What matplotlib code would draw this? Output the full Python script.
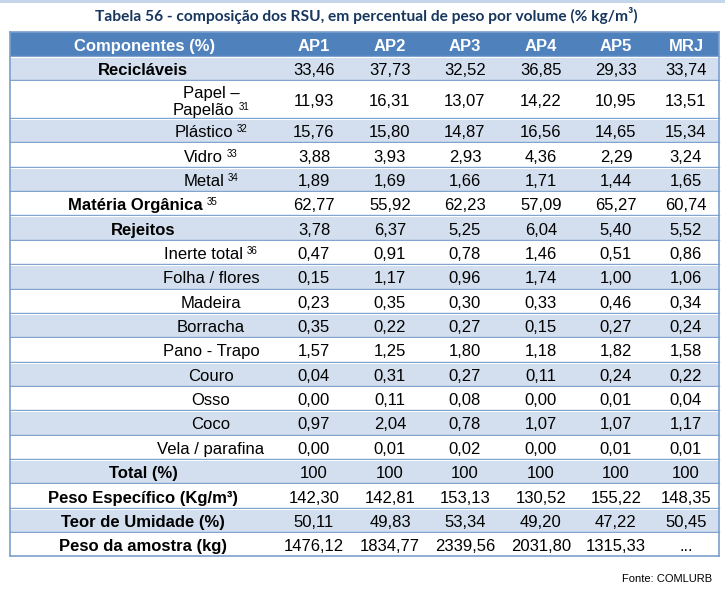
import numpy as np
import matplotlib
matplotlib.use("Agg")
import matplotlib.pyplot as plt
from matplotlib import font_manager

# --- table content -------------------------------------------------------
TITLE = "Tabela 56 - composição dos RSU, em percentual de peso por volume (% kg/m³)"
SOURCE = "Fonte: COMLURB"
HEADER = ["Componentes (%)", "AP1", "AP2", "AP3", "AP4", "AP5", "MRJ"]

LABELS = ["Recicláveis", "Papel –\nPapelão", "Plástico", "Vidro", "Metal",
          "Matéria Orgânica", "Rejeitos", "Inerte total", "Folha / flores",
          "Madeira", "Borracha", "Pano - Trapo", "Couro", "Osso", "Coco",
          "Vela / parafina", "Total (%)", "Peso Específico (Kg/m³)",
          "Teor de Umidade (%)", "Peso da amostra (kg)"]
NOTES = {1: "31", 2: "32", 3: "33", 4: "34", 5: "35", 7: "36"}
BOLD_ROWS = [0, 5, 6, 16, 17, 18, 19]

AP1 = [33.46, 11.93, 15.76, 3.88, 1.89, 62.77, 3.78, 0.47, 0.15, 0.23, 0.35,
       1.57, 0.04, 0.00, 0.97, 0.00, 100, 142.30, 50.11, 1476.12]
AP2 = [37.73, 16.31, 15.80, 3.93, 1.69, 55.92, 6.37, 0.91, 1.17, 0.35, 0.22,
       1.25, 0.31, 0.11, 2.04, 0.01, 100, 142.81, 49.83, 1834.77]
AP3 = [32.52, 13.07, 14.87, 2.93, 1.66, 62.23, 5.25, 0.78, 0.96, 0.30, 0.27,
       1.80, 0.27, 0.08, 0.78, 0.02, 100, 153.13, 53.34, 2339.56]
AP4 = [36.85, 14.22, 16.56, 4.36, 1.71, 57.09, 6.04, 1.46, 1.74, 0.33, 0.15,
       1.18, 0.11, 0.00, 1.07, 0.00, 100, 130.52, 49.20, 2031.80]
AP5 = [29.33, 10.95, 14.65, 2.29, 1.44, 65.27, 5.40, 0.51, 1.00, 0.46, 0.27,
       1.82, 0.24, 0.01, 1.07, 0.01, 100, 155.22, 47.22, 1315.33]
MRJ = [33.74, 13.51, 15.34, 3.24, 1.65, 60.74, 5.52, 0.86, 1.06, 0.34, 0.24,
       1.58, 0.22, 0.04, 1.17, 0.01, 100, 148.35, 50.45, None]
COLUMNS = [AP1, AP2, AP3, AP4, AP5, MRJ]

# --- layout (pixels) -----------------------------------------------------
W, H = 725, 596
LEFT, RIGHT = 10.5, 719.5
HEAD_TOP, HEAD_BOT = 32, 55.5
ROW_UNIT = 24.35
ROW_UNITS = [1, 1.55] + [1] * 18
LABEL_X_BOLD = 143
LABEL_X_SUB = 211
COL_X = [314, 390, 465, 541, 616, 686]

BLUE = "#4F81BD"
BAND = "#D3DFEE"
LINE = "#7BA0CD"
TITLE_COLOR = "#17365D"

names = {f.name for f in font_manager.fontManager.ttflist}
if "Liberation Sans Narrow" in names:
    BODY_FONT = ["Liberation Sans Narrow", "DejaVu Sans"]
    FS = 13
else:
    BODY_FONT = ["Liberation Sans", "DejaVu Sans"]
    FS = 12


def fmt(v):
    if v is None:
        return "..."
    if v == 100:
        return "100"
    return f"{v:.2f}".replace(".", ",")


fig = plt.figure(figsize=(W / 100, H / 100), dpi=100)
ax = fig.add_axes([0, 0, 1, 1])
ax.set_xlim(0, W)
ax.set_ylim(H, 0)
ax.axis("off")
renderer = fig.canvas.get_renderer()

# thin band at the very top of the page
ax.axhspan(0, 2.5, color="#C5D5EA", lw=0)

ax.text(366, 15, TITLE, ha="center", va="center", fontsize=11.2,
        fontweight="bold", family=["Lato", "DejaVu Sans"], color=TITLE_COLOR)

# header
ax.add_patch(plt.Rectangle((LEFT, HEAD_TOP), RIGHT - LEFT, HEAD_BOT - HEAD_TOP,
                           color=BLUE, lw=0))
ax.text(145, HEAD_BOT - 4.8, HEADER[0], ha="center", va="baseline", fontsize=FS,
        fontweight="bold", family=BODY_FONT, color="white")
for x, h in zip(COL_X, HEADER[1:]):
    ax.text(x, HEAD_BOT - 4.8, h, ha="center", va="baseline", fontsize=FS,
            fontweight="bold", family=BODY_FONT, color="white")

edges = HEAD_BOT + 0.5 + np.concatenate([[0], np.cumsum(ROW_UNITS)]) * ROW_UNIT

for i, label in enumerate(LABELS):
    y0, y1 = edges[i], edges[i + 1]
    if i % 2 == 0:
        ax.add_patch(plt.Rectangle((LEFT, y0), RIGHT - LEFT, y1 - y0,
                                   color=BAND, lw=0))
    ax.plot([LEFT, RIGHT], [y0, y0], color=LINE, lw=1)
    ax.plot([LEFT, RIGHT], [y0 + 1, y0 + 1], color="white", lw=0.8)
    base = (y0 + y1) / 2 + 7.0
    bold = i in BOLD_ROWS
    weight = "bold" if bold else "normal"
    cx = LABEL_X_BOLD if bold else LABEL_X_SUB

    lines = label.split("\n")
    for k, line in enumerate(lines):
        lb = base + (k - (len(lines) - 1) / 2) * 17
        note = NOTES.get(i) if k == len(lines) - 1 else None
        t = ax.text(cx, lb, line, ha="center", va="baseline", fontsize=FS,
                    fontweight=weight, family=BODY_FONT, color="black")
        if note:
            n = ax.text(0, lb - 5, note, ha="left", va="baseline", fontsize=7,
                        family=BODY_FONT, color="black")
            wm = t.get_window_extent(renderer).width
            wn = n.get_window_extent(renderer).width
            gap = 4
            x0 = cx - (wm + gap + wn) / 2
            t.set_ha("left")
            t.set_x(x0)
            n.set_x(x0 + wm + gap)

    for x, col in zip(COL_X, COLUMNS):
        ax.text(x, base, fmt(col[i]), ha="center", va="baseline", fontsize=FS,
                family=BODY_FONT, color="black")

# outer border
bottom = edges[-1]
ax.plot([LEFT, RIGHT], [bottom, bottom], color=LINE, lw=1.2)
ax.plot([LEFT, LEFT], [HEAD_TOP, bottom], color=LINE, lw=1.2)
ax.plot([RIGHT, RIGHT], [HEAD_TOP, bottom], color=LINE, lw=1.2)
ax.plot([LEFT, RIGHT], [HEAD_TOP, HEAD_TOP], color=LINE, lw=1.2)

ax.text(712, 582, SOURCE, ha="right", va="baseline", fontsize=8,
        family=BODY_FONT, color="black")

fig.savefig("out.png", dpi=100)
